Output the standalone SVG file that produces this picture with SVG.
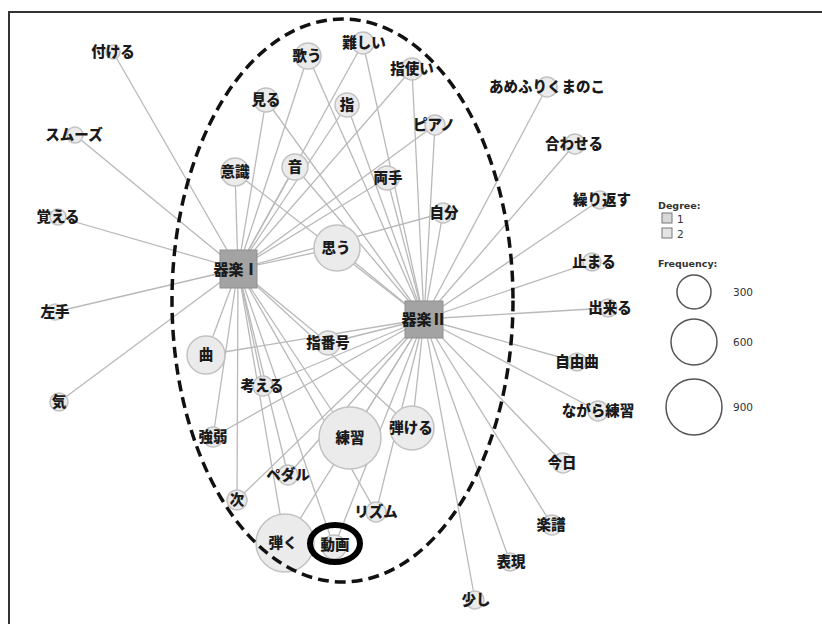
<svg xmlns="http://www.w3.org/2000/svg" width="822" height="624" viewBox="0 0 822 624">
<style>
.e{stroke:#b9b9b9;stroke-width:1.3;fill:none}
.n circle{fill:#ebebeb;stroke:#c2c2c2;stroke-width:1.5}
.n text,.h text{font-family:"Noto Sans CJK JP","Noto Sans",sans-serif;font-weight:900;font-size:14.5px;fill:#1a1a1a;text-anchor:middle}
.h rect{fill:#a3a3a3;stroke:#8f8f8f;stroke-width:1}
.h text{font-size:15px}
.lg{font-family:"DejaVu Sans",sans-serif;fill:#333}
</style>
<rect width="822" height="624" fill="#fff"/>
<path d="M9,624 V12 H822" fill="none" stroke="#333" stroke-width="2"/>
<g id="connectors">
<line class="e" x1="238" y1="269" x2="113" y2="52"/>
<line class="e" x1="238" y1="269" x2="75" y2="135"/>
<line class="e" x1="238" y1="269" x2="58" y2="217"/>
<line class="e" x1="238" y1="269" x2="55" y2="312"/>
<line class="e" x1="238" y1="269" x2="59" y2="402"/>
<line class="e" x1="238" y1="269" x2="266" y2="100"/>
<line class="e" x1="238" y1="269" x2="308" y2="56"/>
<line class="e" x1="238" y1="269" x2="363" y2="43"/>
<line class="e" x1="238" y1="269" x2="412" y2="69"/>
<line class="e" x1="238" y1="269" x2="347" y2="105"/>
<line class="e" x1="238" y1="269" x2="435" y2="125"/>
<line class="e" x1="238" y1="269" x2="295" y2="167"/>
<line class="e" x1="238" y1="269" x2="235" y2="172"/>
<line class="e" x1="238" y1="269" x2="387" y2="178"/>
<line class="e" x1="238" y1="269" x2="443" y2="213"/>
<line class="e" x1="238" y1="269" x2="337" y2="248"/>
<line class="e" x1="238" y1="269" x2="206" y2="355"/>
<line class="e" x1="238" y1="269" x2="328" y2="343"/>
<line class="e" x1="238" y1="269" x2="263" y2="386"/>
<line class="e" x1="238" y1="269" x2="213" y2="437"/>
<line class="e" x1="238" y1="269" x2="237" y2="500"/>
<line class="e" x1="238" y1="269" x2="288" y2="475"/>
<line class="e" x1="238" y1="269" x2="350" y2="438"/>
<line class="e" x1="238" y1="269" x2="412" y2="428"/>
<line class="e" x1="238" y1="269" x2="376" y2="512"/>
<line class="e" x1="238" y1="269" x2="285" y2="543"/>
<line class="e" x1="238" y1="269" x2="334" y2="547"/>
<line class="e" x1="424" y1="319" x2="266" y2="100"/>
<line class="e" x1="424" y1="319" x2="308" y2="56"/>
<line class="e" x1="424" y1="319" x2="363" y2="43"/>
<line class="e" x1="424" y1="319" x2="412" y2="69"/>
<line class="e" x1="424" y1="319" x2="347" y2="105"/>
<line class="e" x1="424" y1="319" x2="435" y2="125"/>
<line class="e" x1="424" y1="319" x2="295" y2="167"/>
<line class="e" x1="424" y1="319" x2="235" y2="172"/>
<line class="e" x1="424" y1="319" x2="387" y2="178"/>
<line class="e" x1="424" y1="319" x2="443" y2="213"/>
<line class="e" x1="424" y1="319" x2="337" y2="248"/>
<line class="e" x1="424" y1="319" x2="206" y2="355"/>
<line class="e" x1="424" y1="319" x2="328" y2="343"/>
<line class="e" x1="424" y1="319" x2="263" y2="386"/>
<line class="e" x1="424" y1="319" x2="213" y2="437"/>
<line class="e" x1="424" y1="319" x2="237" y2="500"/>
<line class="e" x1="424" y1="319" x2="288" y2="475"/>
<line class="e" x1="424" y1="319" x2="350" y2="438"/>
<line class="e" x1="424" y1="319" x2="412" y2="428"/>
<line class="e" x1="424" y1="319" x2="376" y2="512"/>
<line class="e" x1="424" y1="319" x2="285" y2="543"/>
<line class="e" x1="424" y1="319" x2="334" y2="547"/>
<line class="e" x1="424" y1="319" x2="547" y2="87"/>
<line class="e" x1="424" y1="319" x2="575" y2="144"/>
<line class="e" x1="424" y1="319" x2="600" y2="200"/>
<line class="e" x1="424" y1="319" x2="592" y2="262"/>
<line class="e" x1="424" y1="319" x2="608" y2="308"/>
<line class="e" x1="424" y1="319" x2="577" y2="362"/>
<line class="e" x1="424" y1="319" x2="598" y2="411"/>
<line class="e" x1="424" y1="319" x2="563" y2="463"/>
<line class="e" x1="424" y1="319" x2="552" y2="525"/>
<line class="e" x1="424" y1="319" x2="510" y2="562"/>
<line class="e" x1="424" y1="319" x2="475" y2="600"/>
</g>
<g id="n-tsukeru" class="n"><circle cx="113" cy="52" r="7"/><text x="113" y="57">付ける</text></g>
<g id="n-sumuzu" class="n"><circle cx="75" cy="135" r="8"/><text x="74" y="140">スムーズ</text></g>
<g id="n-oboeru" class="n"><circle cx="58" cy="217" r="8"/><text x="58" y="222">覚える</text></g>
<g id="n-hidarite" class="n"><circle cx="55" cy="312" r="8"/><text x="55" y="317">左手</text></g>
<g id="n-ki" class="n"><circle cx="59" cy="402" r="9"/><text x="59" y="407">気</text></g>
<g id="n-miru" class="n"><circle cx="266" cy="100" r="12"/><text x="266" y="105">見る</text></g>
<g id="n-utau" class="n"><circle cx="308" cy="56" r="13"/><text x="307" y="61">歌う</text></g>
<g id="n-muzukashii" class="n"><circle cx="363" cy="43" r="11"/><text x="364" y="48">難しい</text></g>
<g id="n-yubizukai" class="n"><circle cx="412" cy="69" r="11"/><text x="412" y="74">指使い</text></g>
<g id="n-yubi" class="n"><circle cx="347" cy="105" r="12"/><text x="347" y="110">指</text></g>
<g id="n-piano" class="n"><circle cx="435" cy="125" r="10"/><text x="434" y="130">ピアノ</text></g>
<g id="n-oto" class="n"><circle cx="295" cy="167" r="13"/><text x="295" y="172">音</text></g>
<g id="n-ishiki" class="n"><circle cx="235" cy="172" r="14"/><text x="235" y="177">意識</text></g>
<g id="n-ryote" class="n"><circle cx="387" cy="178" r="12"/><text x="388" y="183">両手</text></g>
<g id="n-jibun" class="n"><circle cx="443" cy="213" r="10"/><text x="444" y="218">自分</text></g>
<g id="n-omou" class="n"><circle cx="337" cy="248" r="23"/><text x="336" y="253">思う</text></g>
<g id="n-kyoku" class="n"><circle cx="206" cy="355" r="19"/><text x="206" y="360">曲</text></g>
<g id="n-yubibango" class="n"><circle cx="328" cy="343" r="12"/><text x="328" y="348">指番号</text></g>
<g id="n-kangaeru" class="n"><circle cx="263" cy="386" r="10"/><text x="262" y="391">考える</text></g>
<g id="n-kyojaku" class="n"><circle cx="213" cy="437" r="10"/><text x="213" y="442">強弱</text></g>
<g id="n-tsugi" class="n"><circle cx="237" cy="500" r="10"/><text x="237" y="505">次</text></g>
<g id="n-pedaru" class="n"><circle cx="288" cy="475" r="10"/><text x="288" y="480">ペダル</text></g>
<g id="n-renshu" class="n"><circle cx="350" cy="438" r="31"/><text x="350" y="443">練習</text></g>
<g id="n-hikeru" class="n"><circle cx="412" cy="428" r="22"/><text x="411" y="433">弾ける</text></g>
<g id="n-rizumu" class="n"><circle cx="376" cy="512" r="10"/><text x="376" y="517">リズム</text></g>
<g id="n-hiku" class="n"><circle cx="285" cy="543" r="29"/><text x="283" y="548">弾く</text></g>
<g id="n-doga" class="n"><circle cx="334" cy="547" r="12"/><text x="335" y="550">動画</text><ellipse cx="335" cy="543.5" rx="25" ry="18.5" fill="none" stroke="#000" stroke-width="6"/></g>
<g id="n-amefuri" class="n"><circle cx="547" cy="87" r="10"/><text x="547" y="92">あめふりくまのこ</text></g>
<g id="n-awaseru" class="n"><circle cx="575" cy="144" r="10"/><text x="574" y="149">合わせる</text></g>
<g id="n-kurikaesu" class="n"><circle cx="600" cy="200" r="9"/><text x="602" y="205">繰り返す</text></g>
<g id="n-tomaru" class="n"><circle cx="592" cy="262" r="9"/><text x="594" y="267">止まる</text></g>
<g id="n-dekiru" class="n"><circle cx="608" cy="308" r="9"/><text x="610" y="313">出来る</text></g>
<g id="n-jiyukyoku" class="n"><circle cx="577" cy="362" r="9"/><text x="577" y="367">自由曲</text></g>
<g id="n-nagara" class="n"><circle cx="598" cy="411" r="10"/><text x="598" y="416">ながら練習</text></g>
<g id="n-kyo" class="n"><circle cx="563" cy="463" r="10"/><text x="562" y="468">今日</text></g>
<g id="n-gakufu" class="n"><circle cx="552" cy="525" r="10"/><text x="551" y="530">楽譜</text></g>
<g id="n-hyogen" class="n"><circle cx="510" cy="562" r="9"/><text x="511" y="567">表現</text></g>
<g id="n-sukoshi" class="n"><circle cx="475" cy="600" r="9"/><text x="476" y="605">少し</text></g>
<g id="n-kigaku1" class="h"><rect x="220" y="250" width="37" height="38"/><text x="236" y="275">器楽Ⅰ</text></g>
<g id="n-kigaku2" class="h"><rect x="405" y="301" width="38" height="37"/><text x="424" y="325">器楽Ⅱ</text></g>
<ellipse id="group-ellipse" cx="342.5" cy="300.5" rx="170.5" ry="281.5" fill="none" stroke="#111" stroke-width="3.5" stroke-dasharray="11 6"/>
<g id="legend">
<text class="lg" x="658" y="209" font-size="9.5" font-weight="bold">Degree:</text>
<rect x="662" y="213" width="10" height="10" fill="#d8d8d8" stroke="#777"/>
<text class="lg" x="677" y="223" font-size="10.5">1</text>
<rect x="662" y="228" width="10" height="10" fill="#e4e4e4" stroke="#777"/>
<text class="lg" x="677" y="238" font-size="10.5">2</text>
<text class="lg" x="658" y="267" font-size="9.5" font-weight="bold">Frequency:</text>
<circle cx="694" cy="292" r="17" fill="none" stroke="#555" stroke-width="1.5"/>
<text class="lg" x="733" y="296" font-size="10.5">300</text>
<circle cx="694" cy="342" r="23" fill="none" stroke="#555" stroke-width="1.5"/>
<text class="lg" x="733" y="346" font-size="10.5">600</text>
<circle cx="694" cy="407" r="28" fill="none" stroke="#555" stroke-width="1.5"/>
<text class="lg" x="733" y="411" font-size="10.5">900</text>
</g>
</svg>
